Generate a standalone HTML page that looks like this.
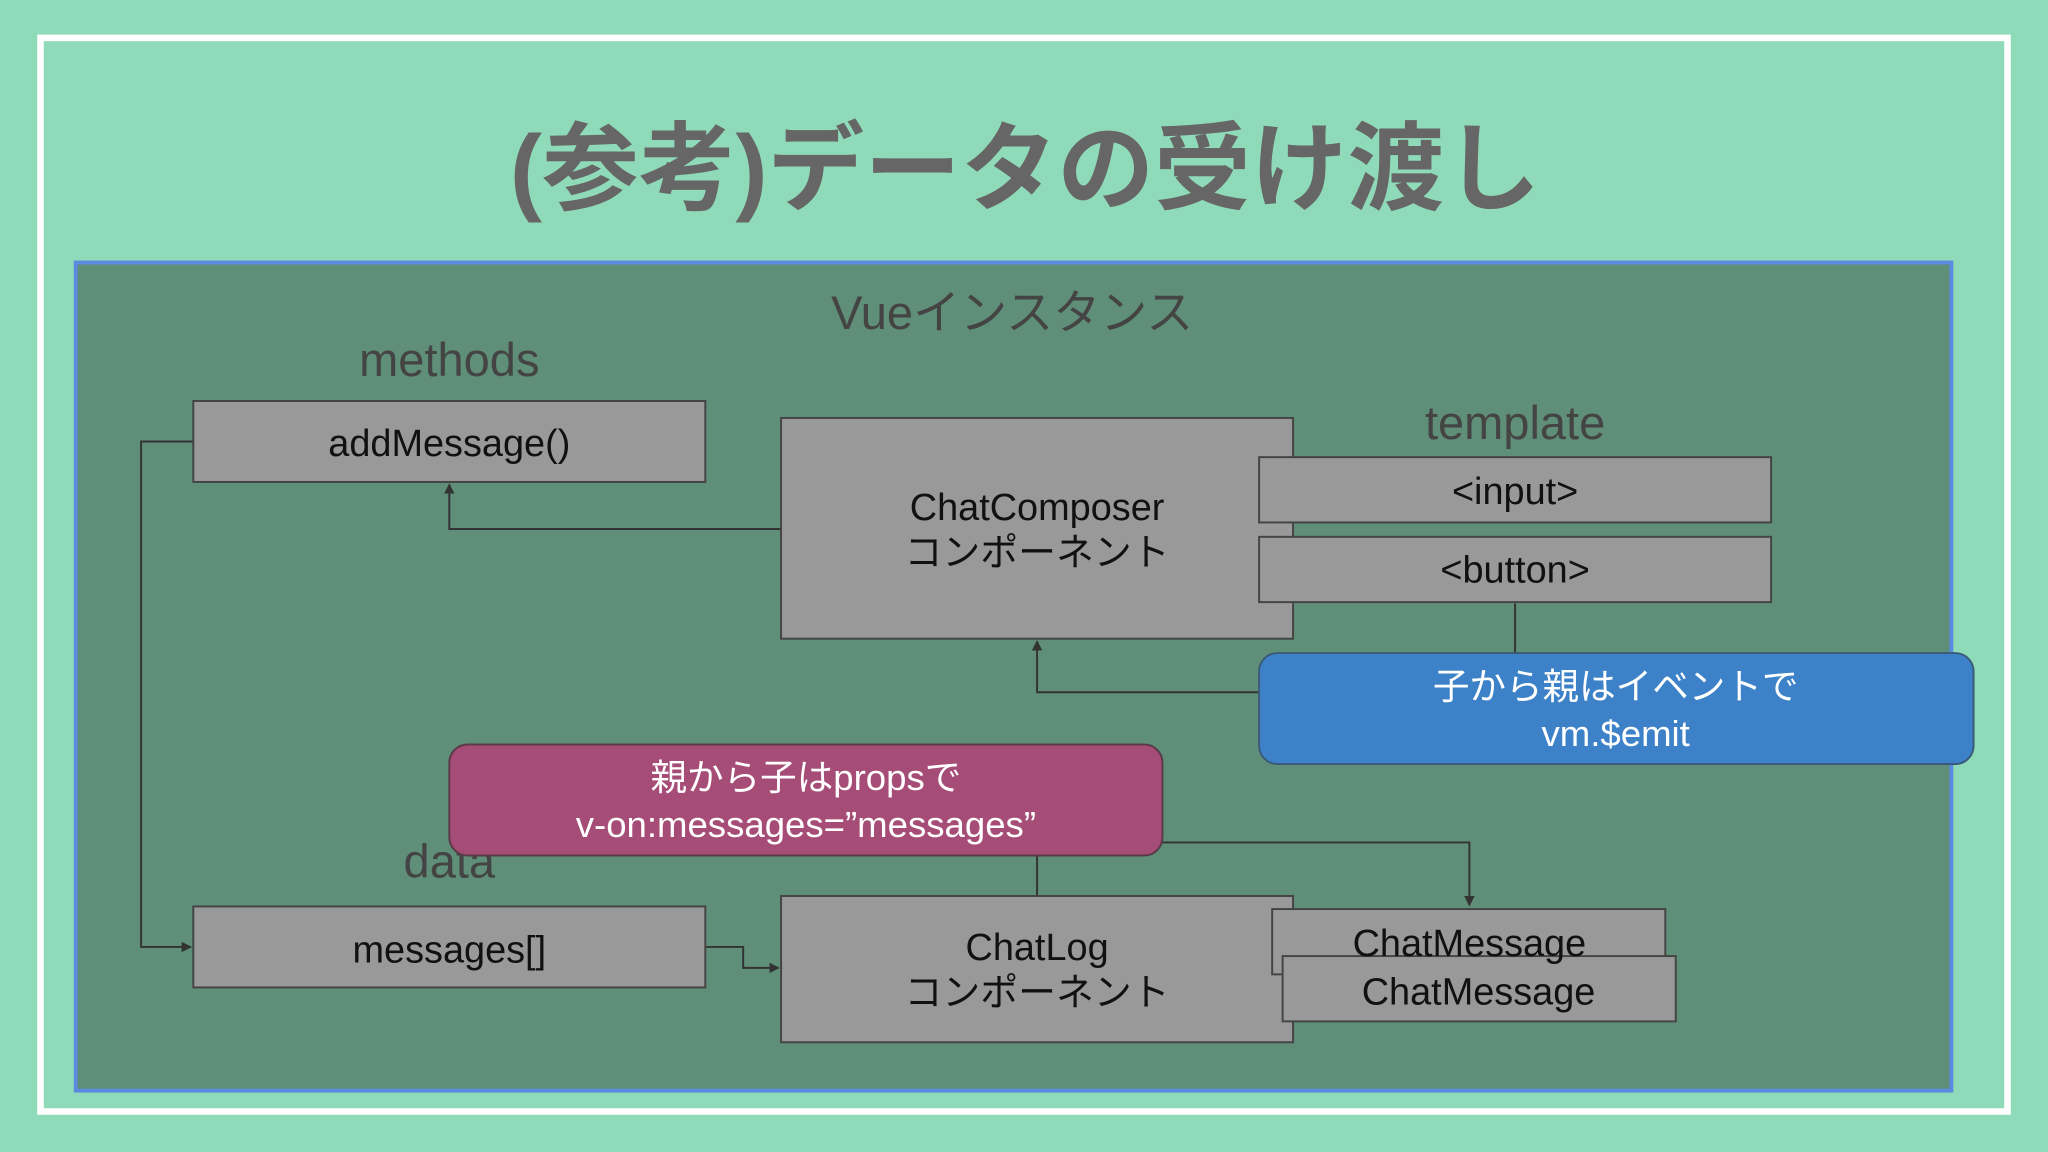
<!DOCTYPE html>
<html><head><meta charset="utf-8"><style>
html,body{margin:0;padding:0;background:#8fdbb9;}
svg{display:block;}
text{font-family:"Liberation Sans","Noto Sans CJK JP",sans-serif;}
</style></head><body>
<svg width="2048" height="1152" viewBox="0 0 1568 882" xmlns="http://www.w3.org/2000/svg">
<defs><marker id="a" markerWidth="8" markerHeight="8" refX="7" refY="4" orient="auto" markerUnits="userSpaceOnUse"><path d="M0,0 L8,4 L0,8 z" fill="#333"/></marker></defs>
<rect width="1568" height="882" fill="#8fdbb9"/>
<rect x="31" y="29" width="1506" height="822" fill="none" stroke="#fff" stroke-width="5"/>
<text x="785" y="155" text-anchor="middle" font-size="74" font-weight="bold" fill="#666">(参考)データの受け渡し</text>
<rect x="58" y="201" width="1436" height="634" fill="#5f8f78" stroke="#5b8be0" stroke-width="3"/>
<text x="775" y="252" text-anchor="middle" font-size="36" fill="#444">Vueインスタンス</text>
<text x="344" y="288" text-anchor="middle" font-size="36" fill="#444">methods</text>
<text x="1160" y="336" text-anchor="middle" font-size="36" fill="#444">template</text>
<text x="344" y="672" text-anchor="middle" font-size="36" fill="#444">data</text>
<g fill="none" stroke="#333" stroke-width="1.5">
<path d="M148,338 H108 V725 H146" marker-end="url(#a)"/>
<path d="M598,405 H344 V371" marker-end="url(#a)"/>
<path d="M1160,462 V500"/>
<path d="M964,530 H794 V491" marker-end="url(#a)"/>
<path d="M794,655 V686"/>
<path d="M890,645 H1125 V693" marker-end="url(#a)"/>
<path d="M540,725 H569 V741 H596" marker-end="url(#a)"/>
</g>
<g fill="#999" stroke="#444" stroke-width="1.5">
<rect x="148" y="307" width="392" height="62"/>
<rect x="598" y="320" width="392" height="169"/>
<rect x="964" y="350" width="392" height="50"/>
<rect x="964" y="411" width="392" height="50"/>
<rect x="148" y="694" width="392" height="62"/>
<rect x="598" y="686" width="392" height="112"/>
<rect x="974" y="696" width="301" height="50"/>
<rect x="982" y="732" width="301" height="50"/>
</g>
<rect x="964" y="500" width="547" height="85" rx="14" fill="#3d82c8" stroke="#3a5a78" stroke-width="1.5"/>
<rect x="344" y="570" width="546" height="85" rx="14" fill="#a64d77" stroke="#5a3a48" stroke-width="1.5"/>
<g font-size="29" fill="#111" text-anchor="middle">
<text x="344" y="349">addMessage()</text>
<text x="794" y="398">ChatComposer</text>
<text x="794" y="433">コンポーネント</text>
<text x="1160" y="386">&lt;input&gt;</text>
<text x="1160" y="446">&lt;button&gt;</text>
<text x="344" y="737">messages[]</text>
<text x="794" y="735">ChatLog</text>
<text x="794" y="770">コンポーネント</text>
<text x="1125" y="732">ChatMessage</text>
<text x="1132" y="769">ChatMessage</text>
</g>
<g font-size="28" fill="#fff" text-anchor="middle">
<text x="1237" y="535">子から親はイベントで</text>
<text x="1237" y="571">vm.$emit</text>
<text x="617" y="605">親から子はpropsで</text>
<text x="617" y="641">v-on:messages=”messages”</text>
</g>
</svg>
</body></html>
